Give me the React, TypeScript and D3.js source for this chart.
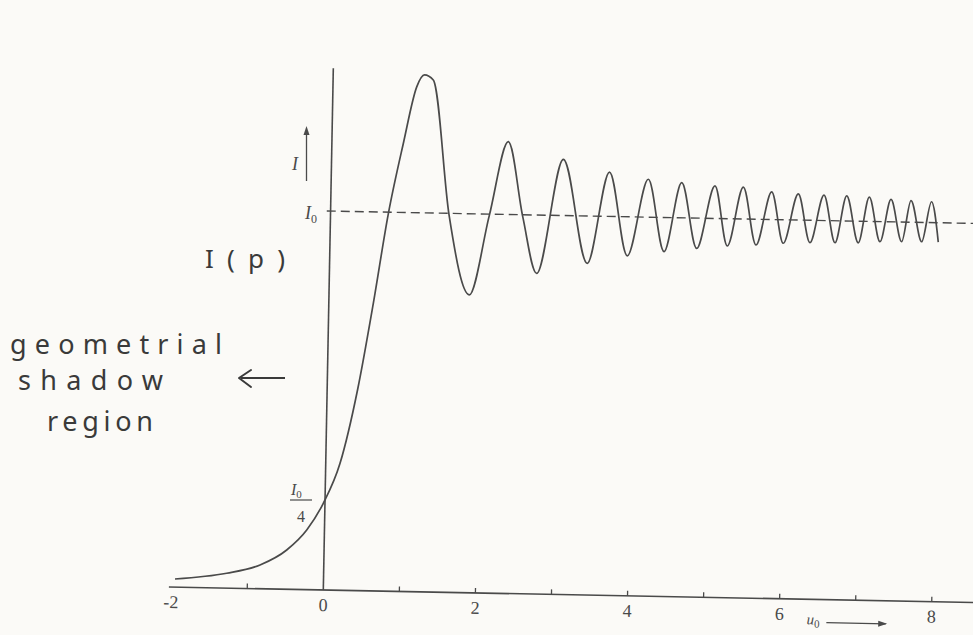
import React from "react";
import * as d3 from "d3";

// Fresnel straight-edge diffraction pattern
const uValues = [
  -1.952, -1.274, -0.838, -0.491, -0.233, -0.022, 0.188, 0.4, 0.586,
  0.759, 0.939, 1.101, 1.2, 1.317, 1.558, 1.845, 2.087, 2.318, 2.527, 2.725,
  3.046, 3.387, 3.656, 3.911, 4.168, 4.393, 4.608, 4.821, 5.046, 5.223, 5.419,
  5.6, 5.793, 5.958, 6.143, 6.309, 6.481, 6.638, 6.78, 6.944, 7.077, 7.229,
  7.363, 7.514, 7.626, 7.777, 7.896, 7.995,
];
const intensity = [
  0.0215, 0.0392, 0.0628, 0.1037, 0.1574, 0.2287, 0.335, 0.53, 0.76,
  0.995, 1.182, 1.332, 1.364, 1.351, 0.996, 0.786, 0.996, 1.192, 0.995, 0.846,
  1.148, 0.875, 1.117, 0.897, 1.1, 0.91, 1.093, 0.92, 1.086, 0.928, 1.084,
  0.932, 1.073, 0.938, 1.069, 0.941, 1.067, 0.942, 1.066, 0.943, 1.064, 0.947,
  1.059, 0.948, 1.057, 0.949, 1.055, 0.949,
];
const tickLabels = ["-2", "0", "2", "4", "6", "8"];
const tickValues = [-2, 0, 2, 4, 6, 8];
const minorTicks = [-1, 1, 2, 3, 4, 5, 6, 7, 8];
const referenceLevel = 1; // I0

const W = 973;
const H = 635;
const INK = "#4a4a4a";
const PEN = "#3a3a3a";

export default function App() {
  const x = d3.scaleLinear().domain([-2, 8]).range([-152.14, 608.56]);
  const y = d3.scaleLinear().domain([0, 1]).range([0, -379]);

  const data = uValues.map((u, i) => [u, intensity[i]] as [number, number]);
  const line = d3
    .line<[number, number]>()
    .x((d) => x(d[0]))
    .y((d) => y(d[1]))
    .curve(d3.curveMonotoneX);

  const serif = "'Liberation Serif', 'DejaVu Serif', serif";
  const hand = "'Noto Sans', 'DejaVu Sans', sans-serif";

  return (
    <svg
      width={W}
      height={H}
      style={{ position: "absolute", left: 0, top: 0, background: "#fbfaf7" }}
    >
      <rect width={W} height={H} fill="#fbfaf7" />
      <g transform="translate(323.3,590) rotate(1.1)">
        {/* x axis */}
        <line x1={x(-2.03)} x2={x(8.7)} y1={0} y2={0} stroke={INK} strokeWidth={1.6} />
        {minorTicks.map((t) => (
          <line key={t} x1={x(t)} x2={x(t)} y1={0} y2={-5} stroke={INK} strokeWidth={1.3} />
        ))}
        {tickValues.map((t, i) => (
          <text
            key={t}
            x={x(t)}
            y={21}
            textAnchor="middle"
            fontFamily={serif}
            fontSize={18}
            fill={INK}
          >
            {tickLabels[i]}
          </text>
        ))}
        {/* u0 arrow label */}
        <text x={x(6.36)} y={25} fontFamily={serif} fontStyle="italic" fontSize={15} fill={INK}>
          u
          <tspan fontSize={11} dy={3} fontStyle="normal">0</tspan>
        </text>
        <line x1={x(6.62)} x2={x(7.4)} y1={23} y2={23} stroke={INK} strokeWidth={1.2} />
        <path d={`M${x(7.42)},23 l-9,-3 l0,6 z`} fill={INK} />
        {/* y axis */}
        <line x1={x(0)} x2={x(0)} y1={0} y2={y(1.377)} stroke={INK} strokeWidth={1.6} />
        {/* I0 reference */}
        <line
          x1={x(-0.05)}
          x2={x(8.8)}
          y1={y(referenceLevel)}
          y2={y(referenceLevel)}
          stroke={INK}
          strokeWidth={1.4}
          strokeDasharray="9,5"
        />
        {/* curve */}
        <path d={line(data) || ""} fill="none" stroke={INK} strokeWidth={1.7} />
      </g>

      {/* I with arrow */}
      <text x={292} y={170} fontFamily={serif} fontStyle="italic" fontSize={18} fill={INK}>
        I
      </text>
      <line x1={306.5} x2={306.5} y1={181} y2={133} stroke={INK} strokeWidth={1.3} />
      <path d="M306.5,126 l-3,9 l6,0 z" fill={INK} />

      {/* I0 */}
      <text x={305} y={219} fontFamily={serif} fontStyle="italic" fontSize={18} fill={INK}>
        I
        <tspan fontSize={12} dy={4} fontStyle="normal">0</tspan>
      </text>

      {/* I0 / 4 */}
      <text x={291} y={495} fontFamily={serif} fontStyle="italic" fontSize={16} fill={INK}>
        I
        <tspan fontSize={11} dy={3} fontStyle="normal">0</tspan>
      </text>
      <line x1={290} x2={312} y1={500} y2={500} stroke={INK} strokeWidth={1.2} />
      <text x={301} y={522} textAnchor="middle" fontFamily={serif} fontSize={16} fill={INK}>
        4
      </text>

      {/* handwritten annotations */}
      <text x={205} y={268} fontFamily={hand} fontSize={26} fill={PEN} textLength={80} lengthAdjust="spacing">
        I(p)
      </text>
      <text x={10} y={354} fontFamily={hand} fontSize={27} fill={PEN} textLength={212} lengthAdjust="spacing">
        geometrial
      </text>
      <text x={18} y={390} fontFamily={hand} fontSize={27} fill={PEN} textLength={145} lengthAdjust="spacing">
        shadow
      </text>
      <text x={47} y={431} fontFamily={hand} fontSize={27} fill={PEN} textLength={106} lengthAdjust="spacing">
        region
      </text>
      <line x1={241} x2={285} y1={378} y2={378} stroke={PEN} strokeWidth={2} />
      <path
        d="M239,378 L251,370 M239,378 L251,387"
        stroke={PEN}
        strokeWidth={2}
        fill="none"
        strokeLinecap="round"
      />
    </svg>
  );
}
